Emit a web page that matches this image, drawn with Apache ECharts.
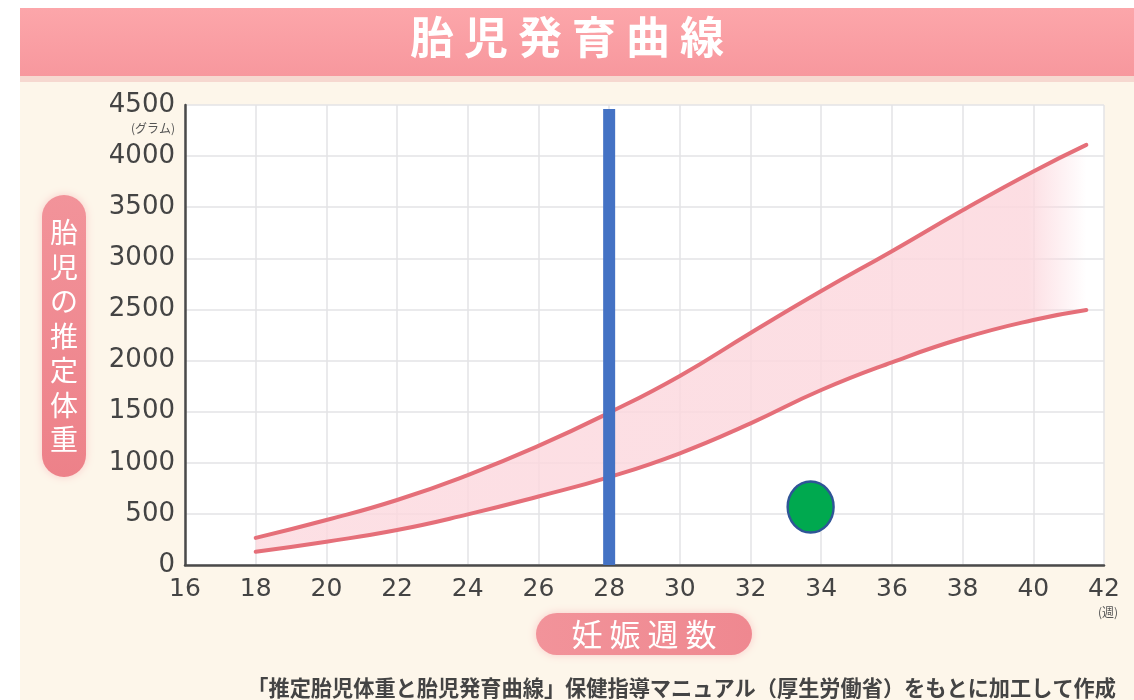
<!DOCTYPE html>
<html>
<head>
<meta charset="utf-8">
<script src="https://cdn.jsdelivr.net/npm/echarts@6/dist/echarts.min.js"></script>
<style>
  html, body { margin: 0; padding: 0; background: #ffffff; }
  #chart { width: 1134px; height: 700px; }
</style>
</head>
<body>
<div id="chart"></div>
<script>
// Gestational week (x) and estimated fetal weight in grams (y)
const weeks        = [18, 20, 22, 24, 26, 28, 30, 32, 34, 36, 38, 40, 41.5];
const upperWeight  = [265, 440, 636, 880, 1165, 1490, 1850, 2270, 2680, 3070, 3470, 3850, 4110];
const lowerWeight  = [130, 228, 342, 495, 670, 860, 1093, 1386, 1712, 1983, 2218, 2397, 2495];

// Axis ticks
const xTicks = { min: 16, max: 42, step: 2 };
const yTicks = { min: 0, max: 4500, step: 500 };

// Current-week marker and measured point
const markerWeek = 28;
const markerTop = 4460;
const pointWeek = 33.7;
const pointWeight = 567;

// Texts
const titleText = '胎児発育曲線';
const yTitle = '胎児の推定体重';
const xTitle = '妊娠週数';
const yUnit = '(グラム)';
const xUnit = '(週)';
const sourceNote = '「推定胎児体重と胎児発育曲線」保健指導マニュアル（厚生労働省）をもとに加工して作成';

const JP = '"Noto Sans CJK JP", "Noto Sans", sans-serif';
const NUM = '"DejaVu Sans", "Noto Sans", sans-serif';
const LINE_PINK = '#e56f79';

const lowerPts = weeks.map((w, i) => [w, lowerWeight[i]]);
const upperPts = weeks.map((w, i) => [w, upperWeight[i]]);
// For the stacked band the weight comes first so that it is the stacked dimension
const bandBasePts = weeks.map((w, i) => [lowerWeight[i], w]);
const bandPts     = weeks.map((w, i) => [upperWeight[i] - lowerWeight[i], w]);

const chart = echarts.init(document.getElementById('chart'), null, { renderer: 'canvas' });

const plainNumber = v => String(v);

chart.setOption({
  backgroundColor: '#ffffff',
  animation: false,
  grid: {
    left: 185, right: 30, top: 105, bottom: 135,
    show: true, backgroundColor: '#ffffff', borderWidth: 0
  },
  xAxis: {
    type: 'value',
    min: xTicks.min, max: xTicks.max, interval: xTicks.step,
    axisLine: { show: true, lineStyle: { color: '#4a4a4a', width: 2.5 } },
    axisTick: { show: false },
    axisLabel: { color: '#444', fontSize: 25, fontFamily: NUM, margin: 12, formatter: plainNumber },
    splitLine: { show: true, lineStyle: { color: '#e3e3e6', width: 1.5 } }
  },
  yAxis: {
    type: 'value',
    min: yTicks.min, max: yTicks.max, interval: yTicks.step,
    axisLine: { show: true, lineStyle: { color: '#4a4a4a', width: 2.5 } },
    axisTick: { show: false },
    axisLabel: { color: '#444', fontSize: 26, fontFamily: NUM, margin: 10, formatter: plainNumber },
    splitLine: { show: true, lineStyle: { color: '#e3e3e6', width: 1.5 } }
  },
  series: [
    {
      // invisible base of the shaded band
      name: 'bandBase', type: 'line', stack: 'band', data: bandBasePts,
      encode: { x: 1, y: 0 },
      smooth: true, symbol: 'none', lineStyle: { width: 0, opacity: 0 }, silent: true, z: 1
    },
    {
      // shaded band between the two curves, fading out on the right
      name: 'band', type: 'line', stack: 'band', data: bandPts,
      encode: { x: 1, y: 0 },
      smooth: true, symbol: 'none', lineStyle: { width: 0, opacity: 0 }, silent: true, z: 1,
      areaStyle: {
        opacity: 1,
        color: new echarts.graphic.LinearGradient(0, 0, 1, 0, [
          { offset: 0, color: 'rgba(252, 216, 222, 0.8)' },
          { offset: 0.93, color: 'rgba(252, 216, 222, 0.85)' },
          { offset: 1, color: 'rgba(252, 216, 222, 0.0)' }
        ])
      }
    },
    {
      name: 'upper', type: 'line', data: upperPts, smooth: true, symbol: 'none', z: 3,
      lineStyle: { color: LINE_PINK, width: 4, cap: 'round' }
    },
    {
      name: 'lower', type: 'line', data: lowerPts, smooth: true, symbol: 'none', z: 3,
      lineStyle: { color: LINE_PINK, width: 4, cap: 'round' }
    },
    {
      name: 'marker', type: 'line', data: [[markerWeek, 0], [markerWeek, markerTop]],
      symbol: 'none', z: 5, lineStyle: { color: '#4472c4', width: 12, cap: 'butt' }
    },
    {
      name: 'point', type: 'scatter', data: [[pointWeek, pointWeight]],
      symbol: 'circle', symbolSize: [46, 51], z: 6,
      itemStyle: { color: '#00a94f', borderColor: '#2f5597', borderWidth: 2.5, opacity: 1 }
    }
  ],
  graphic: [
    // cream page background
    { type: 'rect', z: -10, silent: true, shape: { x: 20, y: 76, width: 1114, height: 624 },
      style: { fill: '#fdf6ea' } },
    // title banner
    { type: 'rect', z: -5, silent: true, shape: { x: 20, y: 8, width: 1114, height: 70 },
      style: { fill: new echarts.graphic.LinearGradient(0, 0, 0, 1, [
        { offset: 0, color: '#fca6aa' }, { offset: 1, color: '#f7979d' }]) } },
    { type: 'rect', z: -5, silent: true, shape: { x: 20, y: 76, width: 1114, height: 6 },
      style: { fill: '#f6d8d0' } },
    { type: 'text', z: 10, silent: true, left: 'center', top: 15,
      style: { text: titleText.split('').join(' '), fill: '#ffffff', fontSize: 44, fontWeight: 'bold',
        fontFamily: JP } },
    // y-axis title pill
    { type: 'rect', z: 2, silent: true, shape: { x: 42, y: 195, width: 44, height: 282, r: 22 },
      style: { fill: new echarts.graphic.LinearGradient(0, 0, 0, 1, [
        { offset: 0, color: '#f2939a' }, { offset: 1, color: '#ed8189' }]),
        shadowBlur: 8, shadowColor: 'rgba(245, 150, 160, 0.45)' } },
    { type: 'text', z: 10, silent: true, x: 64, y: 336,
      style: { text: yTitle.split('').join('\n'), fill: '#ffffff', fontSize: 28, lineHeight: 34.5,
        fontFamily: JP, align: 'center', verticalAlign: 'middle' } },
    // x-axis title pill
    { type: 'rect', z: 2, silent: true, shape: { x: 536, y: 613, width: 216, height: 42, r: 21 },
      style: { fill: new echarts.graphic.LinearGradient(0, 0, 1, 0, [
        { offset: 0, color: '#f2939a' }, { offset: 1, color: '#ef8890' }]),
        shadowBlur: 8, shadowColor: 'rgba(245, 150, 160, 0.45)' } },
    { type: 'text', z: 10, silent: true, x: 644, y: 634,
      style: { text: xTitle.split('').join(' '), fill: '#ffffff', fontSize: 31,
        fontFamily: JP, align: 'center', verticalAlign: 'middle' } },
    // units
    { type: 'text', z: 10, silent: true, x: 175, y: 128,
      style: { text: yUnit, fill: '#555', fontSize: 12, fontFamily: JP, align: 'right', verticalAlign: 'middle' } },
    { type: 'text', z: 10, silent: true, x: 1108, y: 612,
      style: { text: xUnit, fill: '#555', fontSize: 12, fontFamily: JP, align: 'center', verticalAlign: 'middle' } },
    // source note
    { type: 'text', z: 10, silent: true, x: 1116, y: 688,
      style: { text: sourceNote, fill: '#444', fontSize: 21.2, fontWeight: 'bold',
        fontFamily: JP, align: 'right', verticalAlign: 'middle' } }
  ]
});
</script>
</body>
</html>
